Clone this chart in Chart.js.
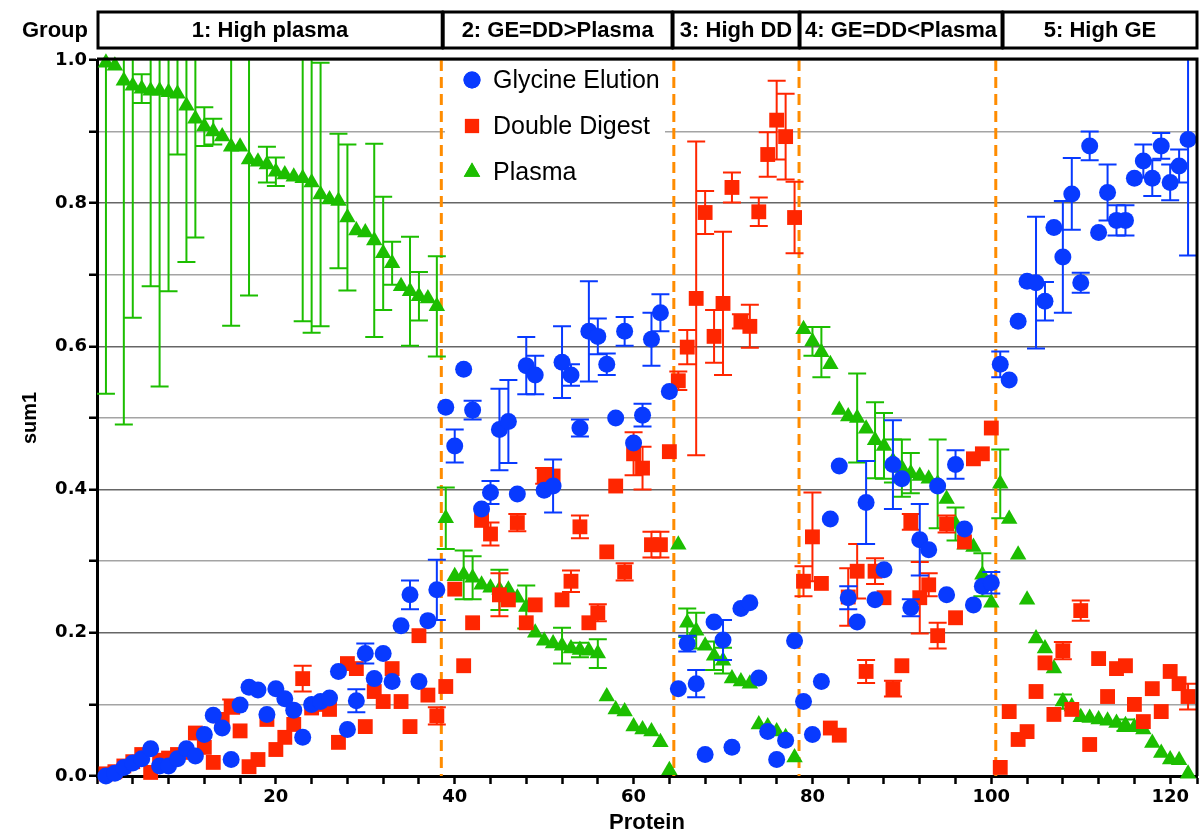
<!DOCTYPE html>
<html>
<head>
<meta charset="utf-8">
<script src="https://cdn.jsdelivr.net/npm/chart.js@4.4.0/dist/chart.umd.min.js"></script>
<style>
  html, body { margin: 0; padding: 0; background: #fff; overflow: hidden; }
  #wrap { width: 1200px; height: 836px; }
  canvas { display: block; }
</style>
</head>
<body>
<div id="wrap"><canvas id="chart" width="1200" height="836"></canvas></div>
<script>
// values per protein (1..122)
const glycineElution = [
  0.000, 0.004, 0.012, 0.018, 0.024, 0.038, 0.014, 0.014, 0.024, 0.038,
  0.028, 0.058, 0.085, 0.067, 0.023, 0.099, 0.124, 0.120, 0.086, 0.122,
  0.108, 0.092, 0.054, 0.100, 0.104, 0.109, 0.146, 0.065, 0.105, 0.171,
  0.136, 0.171, 0.132, 0.210, 0.253, 0.132, 0.217, 0.260, 0.515, 0.461,
  0.568, 0.511, 0.373, 0.396, 0.484, 0.495, 0.394, 0.573, 0.560, 0.399,
  0.405, 0.578, 0.560, 0.486, 0.621, 0.614, 0.575, 0.500, 0.621, 0.465,
  0.504, 0.610, 0.647, 0.537, 0.122, 0.185, 0.129, 0.030, 0.215, 0.190,
  0.040, 0.234, 0.242, 0.137, 0.062, 0.023, 0.050, 0.189, 0.104, 0.058,
  0.132, 0.359, 0.433, 0.249, 0.215, 0.382, 0.246, 0.288, 0.435, 0.415,
  0.235, 0.330, 0.316, 0.405, 0.253, 0.435, 0.345, 0.239, 0.265, 0.270,
  0.575, 0.553, 0.635, 0.691, 0.689, 0.663, 0.766, 0.725, 0.813, 0.689,
  0.880, 0.759, 0.815, 0.776, 0.776, 0.835, 0.859, 0.835, 0.880, 0.829,
  0.852, 0.889
];
const doubleDigest = [
  0.003, 0.006, 0.014, 0.020, 0.030, 0.005, 0.022, 0.025, 0.030, 0.033,
  0.060, 0.040, 0.019, 0.079, 0.097, 0.063, 0.013, 0.023, 0.079, 0.037,
  0.054, 0.072, 0.136, 0.095, 0.100, 0.093, 0.047, 0.157, 0.150, 0.069,
  0.118, 0.104, 0.150, 0.104, 0.069, 0.196, 0.113, 0.084, 0.125, 0.261,
  0.154, 0.214, 0.357, 0.338, 0.253, 0.246, 0.354, 0.214, 0.239, 0.419,
  0.419, 0.246, 0.272, 0.348, 0.214, 0.228, 0.313, 0.405, 0.285, 0.450,
  0.430, 0.323, 0.323, 0.453, 0.552, 0.599, 0.667, 0.787, 0.614, 0.660,
  0.822, 0.635, 0.628, 0.788, 0.868, 0.916, 0.893, 0.780, 0.272, 0.334,
  0.269, 0.067, 0.057, 0.250, 0.286, 0.146, 0.286, 0.249, 0.122, 0.154,
  0.355, 0.249, 0.267, 0.196, 0.352, 0.221, 0.327, 0.443, 0.450, 0.486,
  0.012, 0.090, 0.051, 0.062, 0.118, 0.158, 0.086, 0.175, 0.093, 0.231,
  0.044, 0.164, 0.111, 0.150, 0.154, 0.100, 0.076, 0.122, 0.090, 0.146,
  0.129, 0.111
];
const plasma = [
  0.996, 0.992, 0.971, 0.964, 0.960, 0.957, 0.957, 0.955, 0.953, 0.936,
  0.918, 0.907, 0.900, 0.893, 0.879, 0.879, 0.861, 0.858, 0.854, 0.844,
  0.840, 0.837, 0.835, 0.829, 0.812, 0.805, 0.803, 0.780, 0.762, 0.759,
  0.748, 0.730, 0.716, 0.684, 0.677, 0.670, 0.667, 0.656, 0.360, 0.279,
  0.281, 0.277, 0.267, 0.263, 0.260, 0.260, 0.249, 0.236, 0.200, 0.189,
  0.185, 0.182, 0.178, 0.176, 0.175, 0.171, 0.111, 0.093, 0.090, 0.069,
  0.065, 0.062, 0.047, 0.008, 0.323, 0.214, 0.203, 0.182, 0.168, 0.161,
  0.136, 0.132, 0.129, 0.072, 0.069, 0.062, 0.054, 0.026, 0.624, 0.607,
  0.592, 0.575, 0.511, 0.502, 0.500, 0.485, 0.469, 0.461, 0.440, 0.430,
  0.423, 0.419, 0.415, 0.408, 0.387, 0.352, 0.323, 0.320, 0.281, 0.242,
  0.408, 0.359, 0.309, 0.246, 0.192, 0.178, 0.150, 0.104, 0.097, 0.082,
  0.081, 0.079, 0.077, 0.074, 0.071, 0.068, 0.065, 0.046, 0.032, 0.023,
  0.022, 0.003
];

// error bars: [protein, half width]
const glycineErr = [
  [29, 0.016], [30, 0.014], [35, 0.02], [38, 0.042], [40, 0.023], [42, 0.013], [44, 0.016],
  [45, 0.057], [46, 0.058], [48, 0.04], [49, 0.027], [51, 0.037], [52, 0.05], [53, 0.015],
  [54, 0.012], [55, 0.07], [56, 0.025], [57, 0.015], [59, 0.02], [61, 0.016], [62, 0.037],
  [63, 0.026], [66, 0.011], [67, 0.019], [70, 0.028], [84, 0.016], [86, 0.058], [89, 0.062],
  [91, 0.012], [92, 0.05], [96, 0.02], [100, 0.015], [101, 0.018], [105, 0.092], [106, 0.027],
  [108, 0.078], [109, 0.05], [110, 0.014], [111, 0.02], [113, 0.039], [114, 0.021], [115, 0.021],
  [117, 0.023], [118, 0.025], [119, 0.018], [120, 0.025], [121, 0.023], [122, 0.162]
];
const digestErr = [
  [15, 0.01], [23, 0.018], [38, 0.012], [44, 0.016], [45, 0.03], [47, 0.012], [50, 0.011],
  [53, 0.015], [54, 0.016], [56, 0.012], [59, 0.012], [60, 0.03], [61, 0.03], [62, 0.018],
  [63, 0.018], [65, 0.013], [66, 0.024], [67, 0.219], [68, 0.03], [69, 0.037], [70, 0.1],
  [71, 0.021], [72, 0.01], [73, 0.03], [74, 0.02], [75, 0.031], [76, 0.055], [77, 0.06],
  [78, 0.05], [79, 0.021], [80, 0.062], [84, 0.04], [85, 0.038], [86, 0.016], [87, 0.018],
  [89, 0.011], [91, 0.011], [92, 0.05], [93, 0.016], [94, 0.018], [95, 0.012], [108, 0.012],
  [110, 0.014], [122, 0.018]
];
const plasmaErr = [
  [1, 0.462], [3, 0.48], [4, 0.324], [5, 0.02], [6, 0.273], [7, 0.413], [8, 0.278], [9, 0.085],
  [10, 0.218], [11, 0.166], [12, 0.027], [13, 0.018], [15, 0.25], [17, 0.19], [19, 0.025],
  [20, 0.02], [23, 0.2], [24, 0.21], [25, 0.184], [27, 0.094], [28, 0.102], [31, 0.135],
  [32, 0.079], [33, 0.03], [35, 0.076], [36, 0.034], [38, 0.07], [39, 0.043], [41, 0.034],
  [42, 0.03], [45, 0.028], [48, 0.03], [52, 0.025], [54, 0.01], [56, 0.02], [66, 0.02],
  [67, 0.025], [69, 0.02], [70, 0.018], [80, 0.02], [81, 0.035], [85, 0.062], [87, 0.053],
  [88, 0.046], [89, 0.03], [90, 0.04], [91, 0.028], [94, 0.062], [96, 0.023], [99, 0.03],
  [101, 0.048], [108, 0.01], [115, 0.008]
];

const groupNames = ['1: High plasma', '2: GE=DD>Plasma', '3: High DD', '4: GE=DD<Plasma', '5: High GE'];
const groupBoxEdges = [0, 38.6, 64.3, 78.5, 101.2, 123];
const groupDividers = [38.5, 64.5, 78.5, 100.5];
const xMajorStep = 20;
const xMinorStep = 4;

const BLUE = 'rgb(8, 58, 255)';
const RED = 'rgb(255, 38, 0)';
const GREEN = 'rgb(28, 190, 0)';

function toPoints(values) {
  return values.map((v, i) => ({ x: i + 1, y: v }));
}

const errorBars = {
  id: 'errorBars',
  beforeDatasetDraw(chart, args) {
    const ds = chart.data.datasets[args.index];
    if (!ds.errors) return;
    const { ctx, chartArea, scales: { x, y } } = chart;
    ctx.save();
    ctx.beginPath();
    ctx.rect(chartArea.left, chartArea.top, chartArea.right - chartArea.left, chartArea.bottom - chartArea.top + 2);
    ctx.clip();
    ctx.strokeStyle = ds.barColor;
    ctx.lineWidth = 2;
    ds.errors.forEach(([p, e]) => {
      const v = ds.data[p - 1].y;
      const px = x.getPixelForValue(p);
      const top = y.getPixelForValue(v + e);
      const bot = y.getPixelForValue(v - e);
      ctx.beginPath();
      ctx.moveTo(px, top); ctx.lineTo(px, bot);
      ctx.moveTo(px - 9, top); ctx.lineTo(px + 9, top);
      ctx.moveTo(px - 9, bot); ctx.lineTo(px + 9, bot);
      ctx.stroke();
    });
    ctx.restore();
  }
};

const decorations = {
  id: 'decorations',
  beforeDatasetsDraw(chart) {
    const { ctx, chartArea, scales: { x } } = chart;
    // group dividers
    ctx.save();
    ctx.strokeStyle = 'rgb(255, 140, 0)';
    ctx.lineWidth = 3;
    ctx.setLineDash([11, 6]);
    groupDividers.forEach(d => {
      const px = x.getPixelForValue(d);
      ctx.beginPath();
      ctx.moveTo(px, chartArea.top);
      ctx.lineTo(px, chartArea.bottom);
      ctx.stroke();
    });
    ctx.restore();

    // legend inside the plot
    const lx = chartArea.left + 375;
    ctx.save();
    ctx.fillStyle = '#fff';
    ctx.fillRect(lx - 27, chartArea.top + 2, 220, 136);
    const items = [
      ['Glycine Elution', 'circle', BLUE, 8.5],
      ['Double Digest', 'rect', RED, 10],
      ['Plasma', 'triangle', GREEN, 9.5]
    ];
    ctx.font = '25px "Liberation Sans", Arial, sans-serif';
    ctx.textBaseline = 'middle';
    items.forEach(([label, style, color, r], i) => {
      const cy = chartArea.top + 20 + i * 46;
      ctx.fillStyle = color;
      Chart.helpers.drawPoint(ctx, { pointStyle: style, radius: r, rotation: 0, borderWidth: 0 }, lx, cy);
      ctx.fill();
      ctx.fillStyle = '#000';
      ctx.fillText(label, lx + 21, cy + 1);
    });
    ctx.restore();
  },
  afterDraw(chart) {
    const { ctx, chartArea, scales: { x } } = chart;
    ctx.save();
    ctx.strokeStyle = '#000';
    ctx.lineWidth = 3;
    // top and right frame
    ctx.beginPath();
    ctx.moveTo(chartArea.left, chartArea.top - 1);
    ctx.lineTo(chartArea.right, chartArea.top - 1);
    ctx.lineTo(chartArea.right, chartArea.bottom);
    ctx.stroke();

    // group header
    const top = 12, bottom = 48;
    ctx.font = 'bold 22px "Liberation Sans", Arial, sans-serif';
    ctx.textAlign = 'center';
    ctx.textBaseline = 'middle';
    ctx.fillStyle = '#000';
    ctx.fillText('Group', 55, (top + bottom) / 2 + 1);
    groupNames.forEach((name, i) => {
      const x0 = x.getPixelForValue(groupBoxEdges[i]) + 1;
      const x1 = x.getPixelForValue(groupBoxEdges[i + 1]);
      ctx.strokeRect(x0, top, x1 - x0, bottom - top);
      ctx.fillText(name, (x0 + x1) / 2, (top + bottom) / 2 + 1);
    });
    ctx.restore();
  }
};

const tickFont = { family: '"DejaVu Sans", sans-serif', size: 18, weight: 'bold' };
const titleFont = { family: '"Liberation Sans", Arial, sans-serif', size: 22, weight: 'bold' };

new Chart(document.getElementById('chart'), {
  type: 'scatter',
  data: {
    datasets: [
      {
        label: 'Glycine Elution',
        data: toPoints(glycineElution),
        errors: glycineErr,
        barColor: BLUE,
        pointStyle: 'circle',
        pointRadius: 8.5,
        pointBackgroundColor: BLUE,
        pointBorderWidth: 0,
        clip: false
      },
      {
        label: 'Double Digest',
        data: toPoints(doubleDigest),
        errors: digestErr,
        barColor: RED,
        pointStyle: 'rect',
        pointRadius: 10.5,
        pointBackgroundColor: RED,
        pointBorderWidth: 0,
        clip: false
      },
      {
        label: 'Plasma',
        data: toPoints(plasma),
        errors: plasmaErr,
        barColor: GREEN,
        pointStyle: 'triangle',
        pointRadius: 9.5,
        pointBackgroundColor: GREEN,
        pointBorderWidth: 0,
        clip: false
      }
    ]
  },
  options: {
    responsive: false,
    animation: false,
    events: [],
    layout: { autoPadding: false, padding: { top: 60, right: 3, left: 0, bottom: 0 } },
    plugins: { legend: { display: false }, tooltip: { enabled: false } },
    scales: {
      x: {
        type: 'linear',
        min: 0,
        max: 123,
        afterFit: s => { s.height = 60; s.paddingLeft = 0; s.paddingRight = 0; },
        afterBuildTicks: s => {
          const ticks = [];
          for (let v = 0; v <= s.max; v += xMinorStep) ticks.push({ value: v });
          ticks.push({ value: s.max });
          s.ticks = ticks;
        },
        ticks: {
          autoSkip: false,
          maxRotation: 0,
          padding: 3,
          color: '#000',
          font: tickFont,
          callback: v => (v > 0 && v % xMajorStep === 0) ? String(v) : ''
        },
        grid: { drawOnChartArea: false, drawTicks: true, tickLength: 8, tickColor: '#000', tickWidth: 2.5 },
        border: { display: true, color: '#000', width: 3 },
        title: { display: true, text: 'Protein', color: '#000', font: titleFont, padding: { top: 0, bottom: 0 } }
      },
      y: {
        min: 0,
        max: 1,
        afterFit: s => { s.width = 97; s.paddingTop = 0; s.paddingBottom = 0; },
        ticks: {
          stepSize: 0.1,
          padding: 2,
          color: '#000',
          font: tickFont,
          callback: v => (Math.round(v * 10) % 2 === 0) ? v.toFixed(1) : ''
        },
        grid: {
          color: c => (Math.round(c.tick.value * 10) % 2 === 0) ? '#666' : '#a4a4a4',
          lineWidth: 1.5,
          drawTicks: true,
          tickLength: 8,
          tickColor: '#000',
          tickWidth: 2.5
        },
        border: { display: true, color: '#000', width: 3 },
        title: { display: true, text: 'sum1', color: '#000', font: { family: '"Liberation Sans", Arial, sans-serif', size: 20, weight: 'bold' }, padding: { top: 18, bottom: 0 } }
      }
    }
  },
  plugins: [errorBars, decorations]
});
</script>
</body>
</html>
